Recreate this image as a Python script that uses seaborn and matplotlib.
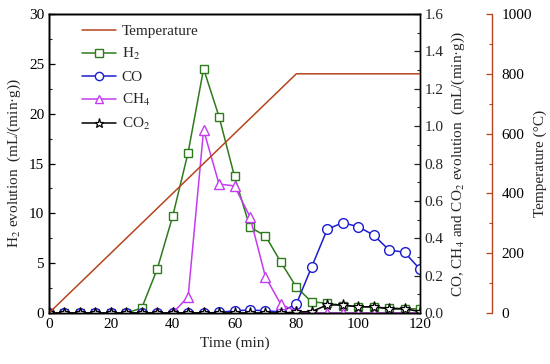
import matplotlib
matplotlib.use("Agg")
import matplotlib.pyplot as plt
import seaborn as sns
import numpy as np
from matplotlib.ticker import MultipleLocator

sns.set_theme(style="white")
plt.rcParams['font.family'] = ['Liberation Serif', 'DejaVu Serif']
plt.rcParams['mathtext.fontset'] = 'stix'

time = [0, 5, 10, 15, 20, 25, 30, 35, 40, 45, 50, 55, 60, 65, 70, 75, 80, 85, 90, 95, 100, 105, 110, 115, 120]
h2 = [0, 0, 0, 0, 0, 0, 0.5, 4.4, 9.7, 16.1, 24.5, 19.7, 13.7, 8.6, 7.75, 5.1, 2.6, 1.1, 1.0, 0.75, 0.65, 0.6, 0.5, 0.45, 0.4]
co = [0, 0, 0, 0, 0, 0, 0, 0, 0, 0, 0, 0.003, 0.012, 0.016, 0.012, 0.006, 0.048, 0.248, 0.448, 0.483, 0.462, 0.417, 0.337, 0.325, 0.234]
ch4 = [0, 0, 0, 0, 0, 0, 0, 0, 0, 0.087, 0.98, 0.69, 0.68, 0.515, 0.194, 0.046, 0.01, 0, 0, 0, 0, 0, 0, 0, 0]
co2 = [0, 0, 0, 0, 0, 0, 0, 0, 0, 0, 0, 0, 0, 0, 0, 0, 0.005, 0.008, 0.043, 0.043, 0.033, 0.033, 0.022, 0.022, 0.008]
temp_time = [0, 80, 120]
temp_vals = [0, 800, 800]

c_temp = '#b4451f'
c_h2 = '#2f7a1c'
c_co = '#1c1cd0'
c_ch4 = '#c43cf0'
c_co2 = '#000000'

fig = plt.figure(figsize=(5.5, 3.64), dpi=100)
ax = fig.add_axes([49/550, 1-313/364, (420-49)/550, (313-14)/364])
ax2 = ax.twinx()
ax3 = ax.twinx()
ax3.spines['right'].set_position(('outward', 72*72/100))

ms = 6
sns.lineplot(x=temp_time, y=temp_vals, ax=ax3, color=c_temp, lw=1.1, label='Temperature', legend=False)
sns.lineplot(x=time, y=h2, ax=ax, color=c_h2, lw=1.1, marker='s', ms=ms, mfc='white', mec=c_h2, mew=1.0, label='H$_2$', legend=False)
sns.lineplot(x=time, y=co, ax=ax2, color=c_co, lw=1.1, marker='o', ms=ms+1, mfc='white', mec=c_co, mew=1.0, label='CO', legend=False)
sns.lineplot(x=time, y=ch4, ax=ax2, color=c_ch4, lw=1.1, marker='^', ms=ms+1.5, mfc='white', mec=c_ch4, mew=1.0, label='CH$_4$', legend=False)
sns.lineplot(x=time, y=co2, ax=ax2, color=c_co2, lw=1.1, marker='*', ms=ms+2, mfc='white', mec=c_co2, mew=0.9, label='CO$_2$', legend=False)

ax.set_xlim(0, 120)
ax.set_ylim(0, 30)
ax2.set_ylim(0, 1.6)
ax3.set_ylim(0, 1000)

ax.xaxis.set_major_locator(MultipleLocator(20))
ax.xaxis.set_minor_locator(MultipleLocator(10))
ax.yaxis.set_major_locator(MultipleLocator(5))
ax.yaxis.set_minor_locator(MultipleLocator(2.5))
ax2.yaxis.set_major_locator(MultipleLocator(0.2))
ax2.yaxis.set_minor_locator(MultipleLocator(0.1))
ax2.yaxis.set_major_formatter(matplotlib.ticker.FormatStrFormatter('%.1f'))
ax3.yaxis.set_major_locator(MultipleLocator(200))
ax3.yaxis.set_minor_locator(MultipleLocator(100))

fs = 11
for a in (ax, ax2, ax3):
    for s in a.spines.values():
        s.set_color('black')
        s.set_linewidth(1.0)
ax.tick_params(axis='both', which='major', direction='in', length=4, width=0.9, labelsize=fs, colors='black', left=True, bottom=True)
ax.tick_params(axis='both', which='minor', direction='in', length=2, width=0.8, left=True, bottom=True)
ax2.tick_params(axis='y', which='major', direction='in', length=4, width=0.9, labelsize=fs, right=True)
ax2.tick_params(axis='y', which='minor', direction='in', length=2, width=0.8, right=True)
ax3.spines['right'].set_color(c_temp)
ax3.tick_params(axis='y', which='major', direction='in', length=4, width=0.9, labelsize=fs, color=c_temp, labelcolor='black', right=True)
ax3.tick_params(axis='y', which='minor', direction='in', length=2, width=0.8, color=c_temp, right=True)
ax3.tick_params(axis='y', pad=7)

ax.set_xlabel('Time (min)', fontsize=fs)
ax.set_ylabel('H$_2$ evolution  (mL/(min·g))', fontsize=fs, labelpad=4)
ax2.set_ylabel('CO, CH$_4$ and CO$_2$ evolution  (mL/(min·g))', fontsize=fs, labelpad=4)
ax3.set_ylabel('Temperature (°C)', fontsize=fs, labelpad=1)

ax.grid(False); ax2.grid(False); ax3.grid(False)

handles = []
labels = []
for a in (ax3, ax, ax2):
    h, l = a.get_legend_handles_labels()
    handles += h
    labels += l
leg = ax2.legend(handles, labels, loc='upper left', bbox_to_anchor=(0.06, 1.0), frameon=False, fontsize=fs,
                 handlelength=2.2, handletextpad=0.4, labelspacing=0.52, borderaxespad=0.3, markerscale=0.85)

fig.savefig('out.png', dpi=100)
